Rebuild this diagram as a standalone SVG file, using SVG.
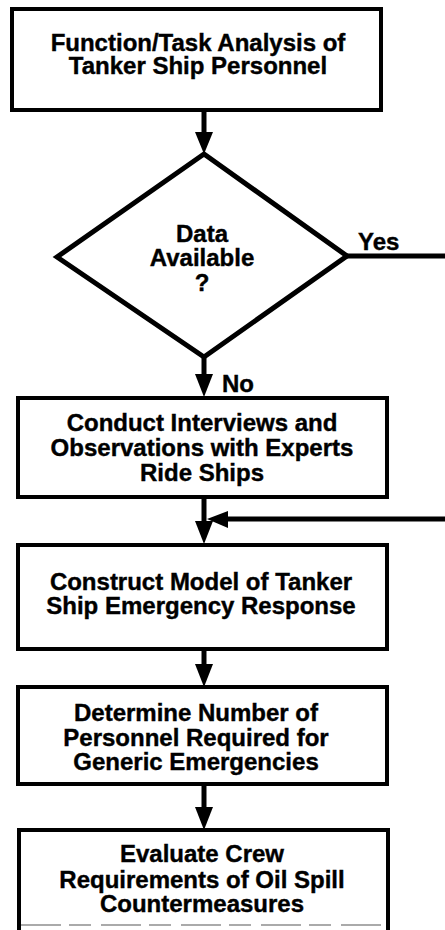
<svg xmlns="http://www.w3.org/2000/svg" width="445" height="930" viewBox="0 0 445 930">
<style>
.bg{fill:#fff}
.box{fill:#fff;stroke:#000;stroke-width:4}
.dia{fill:#fff;stroke:#000;stroke-width:5;stroke-linejoin:miter}
.ln{stroke:#000;stroke-width:5;fill:none}
.ah{fill:#000;stroke:none}
text{font-family:"Liberation Sans",Arial,Helvetica,sans-serif;font-weight:bold;font-size:24px;fill:#000;stroke:#000;stroke-width:0.4}
.c{text-anchor:middle}
.faint{stroke:#aaa;stroke-width:2;stroke-dasharray:40 8 22 10;fill:none}
</style>
<rect class="bg" x="0" y="0" width="445" height="930"/>
<g id="connectors">
  <line class="ln" x1="204" y1="110" x2="204" y2="134"/>
  <polygon class="ah" points="195,132 213,132 204,154"/>
  <line class="ln" x1="204" y1="357" x2="204" y2="376"/>
  <polygon class="ah" points="195,374 213,374 204,397"/>
  <line class="ln" x1="347" y1="256" x2="445" y2="256"/>
  <line class="ln" x1="445" y1="519" x2="226" y2="519"/>
  <polygon class="ah" points="228,511 228,528 207,519"/>
  <line class="ln" x1="204" y1="497" x2="204" y2="523"/>
  <polygon class="ah" points="195,521 213,521 204,544"/>
  <line class="ln" x1="204" y1="649" x2="204" y2="666"/>
  <polygon class="ah" points="195,664 213,664 204,687"/>
  <line class="ln" x1="204" y1="784" x2="204" y2="809"/>
  <polygon class="ah" points="195,807 213,807 204,830"/>
  <text x="358" y="250">Yes</text>
  <text x="222" y="392">No</text>
</g>
<g id="n1">
  <rect class="box" x="12" y="9" width="369" height="101"/>
  <text class="c" x="198" y="51">Function/Task Analysis of</text>
  <text class="c" x="198" y="74">Tanker Ship Personnel</text>
</g>
<g id="n2">
  <polygon class="dia" points="204,154 347,256 204,357 57,257"/>
  <text class="c" x="202" y="242">Data</text>
  <text class="c" x="202" y="266">Available</text>
  <text class="c" x="202" y="291">?</text>
</g>
<g id="n3">
  <rect class="box" x="18" y="398" width="369" height="99"/>
  <text class="c" x="202" y="431">Conduct Interviews and</text>
  <text class="c" x="202" y="456">Observations with Experts</text>
  <text class="c" x="202" y="481">Ride Ships</text>
</g>
<g id="n4">
  <rect class="box" x="18" y="545" width="369" height="104"/>
  <text class="c" x="201" y="590">Construct Model of Tanker</text>
  <text class="c" x="201" y="614">Ship Emergency Response</text>
</g>
<g id="n5">
  <rect class="box" x="18" y="687" width="369" height="97"/>
  <text class="c" x="196" y="721">Determine Number of</text>
  <text class="c" x="196" y="746">Personnel Required for</text>
  <text class="c" x="196" y="770">Generic Emergencies</text>
</g>
<g id="n6">
  <path class="box" d="M19,932 V830 H388 V932"/>
  <line class="faint" x1="21" y1="925" x2="386" y2="925"/>
  <text class="c" x="202" y="862">Evaluate Crew</text>
  <text class="c" x="202" y="888">Requirements of Oil Spill</text>
  <text class="c" x="202" y="912">Countermeasures</text>
</g>
</svg>
